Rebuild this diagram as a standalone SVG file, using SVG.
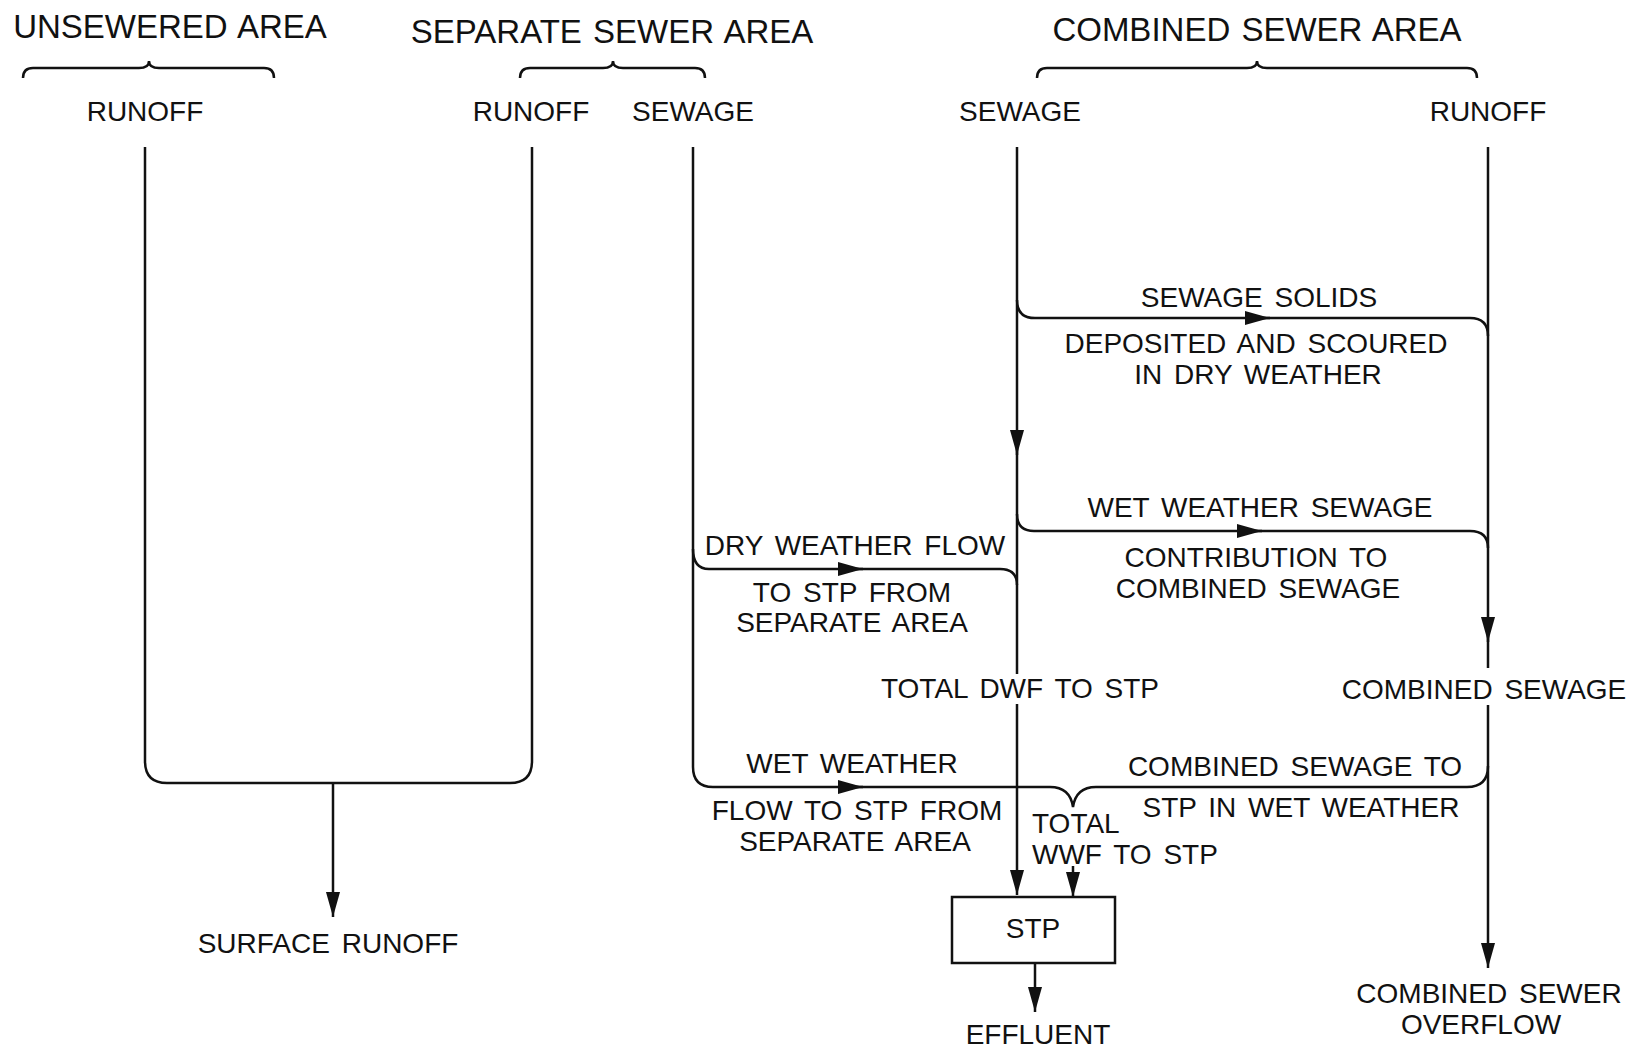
<svg xmlns="http://www.w3.org/2000/svg" width="1642" height="1049" viewBox="0 0 1642 1049">
<style>
text{font-family:"Liberation Sans",Arial,sans-serif;fill:#111;font-size:28px;text-anchor:middle;word-spacing:4px}
.h{font-size:33px;word-spacing:2px}
.l{text-anchor:start}
.ln{fill:none;stroke:#111;stroke-width:2.5}
</style>
<defs>
<marker id="ah" viewBox="0 0 25 14" refX="25" refY="7" markerWidth="25" markerHeight="14" markerUnits="userSpaceOnUse" orient="auto">
<path d="M0,0 L25,7 L0,14 Z" fill="#111"/>
</marker>
</defs>
<rect width="1642" height="1049" fill="#fff"/>
<g id="headers">
<text class="h" x="170" y="38">UNSEWERED AREA</text>
<text class="h" x="612" y="43">SEPARATE SEWER AREA</text>
<text class="h" x="1257" y="41">COMBINED SEWER AREA</text>
<path class="ln" d="M23,78 Q23,68 33,68 L139,68 Q149,68 149,61 Q149,68 159,68 L264,68 Q274,68 274,78"/>
<path class="ln" d="M520,78 Q520,68 530,68 L603,68 Q613,68 613,61 Q613,68 623,68 L695,68 Q705,68 705,78"/>
<path class="ln" d="M1037,78 Q1037,68 1047,68 L1247,68 Q1257,68 1257,61 Q1257,68 1267,68 L1467,68 Q1477,68 1477,78"/>
</g>
<g id="sources">
<text x="145" y="121">RUNOFF</text>
<text x="531" y="121">RUNOFF</text>
<text x="693" y="121">SEWAGE</text>
<text x="1020" y="121">SEWAGE</text>
<text x="1488" y="121">RUNOFF</text>
</g>
<g id="connectors">
<path class="ln" d="M145,147 L145,761 Q145,783 167,783 L510,783 Q532,783 532,761 L532,147"/>
<path class="ln" d="M333,783 L333,917" marker-end="url(#ah)"/>
<path class="ln" d="M693,147 L693,767 Q693,787 713,787 L1017,787"/>
<path class="ln" d="M693,549 Q693,569 709,569 L1000,569 Q1017,569 1017,585"/>
<path class="ln" d="M838,569 L863,569" marker-end="url(#ah)"/>
<path class="ln" d="M838,787 L863,787" marker-end="url(#ah)"/>
<path class="ln" d="M1017,147 L1017,674 M1017,704 L1017,895" marker-end="url(#ah)"/>
<path class="ln" d="M1017,430 L1017,455" marker-end="url(#ah)"/>
<path class="ln" d="M1017,300 Q1017,318 1035,318 L1470,318 Q1488,318 1488,336"/>
<path class="ln" d="M1245,318 L1270,318" marker-end="url(#ah)"/>
<path class="ln" d="M1017,514 Q1017,531 1034,531 L1470,531 Q1488,531 1488,548"/>
<path class="ln" d="M1237,531 L1262,531" marker-end="url(#ah)"/>
<path class="ln" d="M1488,147 L1488,668 M1488,705 L1488,968" marker-end="url(#ah)"/>
<path class="ln" d="M1488,617 L1488,642" marker-end="url(#ah)"/>
<path class="ln" d="M1017,787 L1050,787 Q1070,787 1073,807 Q1076,787 1096,787 L1467,787 Q1488,787 1488,766"/>
<path class="ln" d="M1073,866 L1073,897" marker-end="url(#ah)"/>
<path class="ln" d="M1035,963 L1035,1012" marker-end="url(#ah)"/>
</g>
<g id="labels">
<text x="1259" y="307">SEWAGE SOLIDS</text>
<text x="1256" y="353">DEPOSITED AND SCOURED</text>
<text x="1258" y="384">IN DRY WEATHER</text>
<text x="1260" y="517">WET WEATHER SEWAGE</text>
<text x="1256" y="567">CONTRIBUTION TO</text>
<text x="1258" y="598">COMBINED SEWAGE</text>
<text x="855" y="555">DRY WEATHER FLOW</text>
<text x="852" y="602">TO STP FROM</text>
<text x="852" y="632">SEPARATE AREA</text>
<text x="1020" y="698">TOTAL DWF TO STP</text>
<text x="1484" y="699">COMBINED SEWAGE</text>
<text x="852" y="773">WET WEATHER</text>
<text x="857" y="820">FLOW TO STP FROM</text>
<text x="855" y="851">SEPARATE AREA</text>
<text x="1295" y="776">COMBINED SEWAGE TO</text>
<text x="1301" y="817">STP IN WET WEATHER</text>
<text class="l" x="1032" y="833">TOTAL</text>
<text class="l" x="1032" y="864">WWF TO STP</text>
</g>
<g id="stp">
<rect x="952" y="897" width="163" height="66" fill="#fff" stroke="#111" stroke-width="2.5"/>
<text x="1033" y="938">STP</text>
</g>
<g id="outputs">
<text x="328" y="953">SURFACE RUNOFF</text>
<text x="1038" y="1044">EFFLUENT</text>
<text x="1489" y="1003">COMBINED SEWER</text>
<text x="1481" y="1034">OVERFLOW</text>
</g>
</svg>
